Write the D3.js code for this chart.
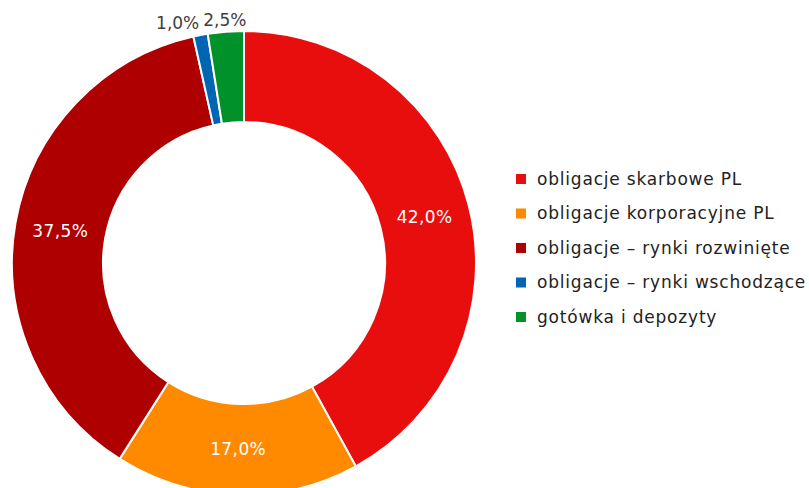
<!DOCTYPE html>
<html>
<head>
<meta charset="utf-8">
<script src="https://cdn.jsdelivr.net/npm/d3@7"></script>
<style>
  body { margin: 0; background: #fff; }
  svg { display: block; font-family: "DejaVu Sans", sans-serif; }
</style>
</head>
<body>
<div id="chart"></div>
<script>
const categories = [
  "obligacje skarbowe PL",
  "obligacje korporacyjne PL",
  "obligacje – rynki rozwinięte",
  "obligacje – rynki wschodzące",
  "gotówka i depozyty"
];
const shares = [42.0, 17.0, 37.5, 1.0, 2.5];
const colors = ["#e80e0e", "#ff8a00", "#ae0000", "#0066b3", "#00912a"];

const width = 809, height = 488;
const cx = 244, cy = 263, outerR = 232, innerR = 141;

const svg = d3.select("#chart").append("svg")
  .attr("width", width)
  .attr("height", height);

const g = svg.append("g").attr("transform", `translate(${cx},${cy})`);

const data = categories.map((c, i) => ({ name: c, value: shares[i], color: colors[i] }));

const pie = d3.pie().sort(null).value(d => d.value);
const arcs = pie(data);

const arc = d3.arc().innerRadius(innerR).outerRadius(outerR);
const outerArc = d3.arc().innerRadius(outerR + 12).outerRadius(outerR + 12);

g.selectAll("path")
  .data(arcs)
  .join("path")
  .attr("d", arc)
  .attr("fill", d => d.data.color)
  .attr("stroke", "#fff")
  .attr("stroke-width", 2);

const fmt = v => v.toFixed(1).replace(".", ",") + "%";

// etykiety wewnątrz dużych wycinków
arcs.filter(d => d.data.value >= 5).forEach(d => {
  const [x, y] = arc.centroid(d);
  g.append("text")
    .attr("x", x)
    .attr("y", y)
    .attr("dy", "0.35em")
    .attr("text-anchor", "middle")
    .attr("fill", "#fff")
    .style("font-size", "17px")
    .style("letter-spacing", "0.4px")
    .text(fmt(d.data.value));
});

// etykiety na zewnątrz małych wycinków
const small = arcs.filter(d => d.data.value < 5);
const outs = small.map(d => {
  const [x, y] = outerArc.centroid(d);
  return g.append("text")
    .attr("x", x)
    .attr("y", y)
    .attr("dy", "0.35em")
    .attr("text-anchor", "middle")
    .attr("fill", "#404040")
    .style("font-size", "17px")
    .text(fmt(d.data.value));
});
// rozsuń nachodzące etykiety w lewo
for (let i = outs.length - 2; i >= 0; i--) {
  const a = outs[i].node().getBBox(), b = outs[i + 1].node().getBBox();
  const overlap = a.x + a.width + 4 - b.x;
  if (overlap > 0) outs[i].attr("x", +outs[i].attr("x") - overlap);
}

// legenda
const legend = svg.append("g").attr("transform", "translate(516,179)");
const rowH = 34.5;
data.forEach((d, i) => {
  const row = legend.append("g").attr("transform", `translate(0,${i * rowH})`);
  row.append("rect")
    .attr("x", 0).attr("y", -5)
    .attr("width", 10).attr("height", 10)
    .attr("fill", d.color);
  row.append("text")
    .attr("x", 21)
    .attr("y", 0)
    .attr("dy", "0.35em")
    .attr("fill", "#222")
    .style("font-size", "17px")
    .style("letter-spacing", "0.8px")
    .text(d.name);
});
</script>
</body>
</html>
